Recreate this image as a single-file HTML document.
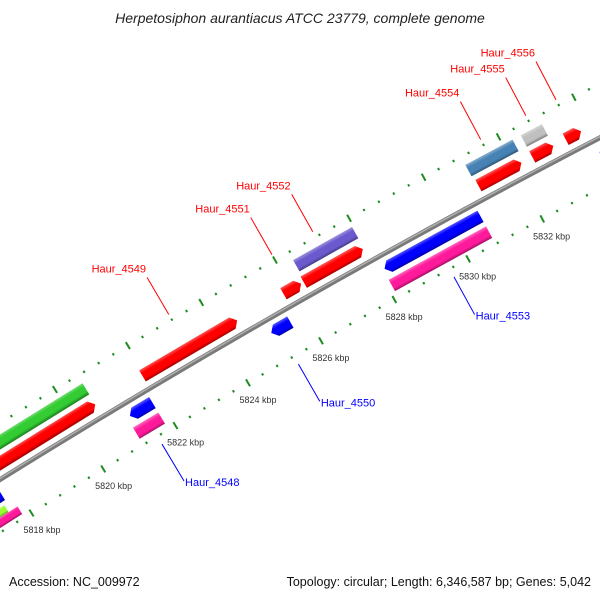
<!DOCTYPE html>
<html><head><meta charset="utf-8"><style>
html,body{margin:0;padding:0;background:#fff;width:600px;height:600px;overflow:hidden;}
svg{display:block;font-family:"Liberation Sans",sans-serif;overflow:hidden;}
</style></head><body>
<svg id="map" width="600" height="600" viewBox="0 0 600 600" xmlns="http://www.w3.org/2000/svg">
<rect width="600" height="600" fill="#fff"/>
<defs id="defs"></defs>
<g id="ticks"></g>
<g id="backbone"></g>
<g id="features"></g>
<g id="labels"></g>
<text x="300" y="23" text-anchor="middle" font-size="14" font-style="italic" fill="#222">Herpetosiphon aurantiacus ATCC 23779, complete genome</text>
<text x="9" y="586" font-size="12.5" fill="#111">Accession: NC_009972</text>
<text x="591" y="586" text-anchor="end" font-size="12.5" fill="#111">Topology: circular; Length: 6,346,587 bp; Genes: 5,042</text>
</svg>
<script>
// feature data (kbp)
var featStart = [5816.0, 5816.0, 5821.93, 5821.19, 5821.11, 5814.0, 5814.0, 5814.0, 5825.78, 5826.33, 5826.37, 5825.07, 5828.15, 5828.11, 5831.04, 5831.0, 5832.48, 5832.48, 5833.37, 5833.93];
var featEnd   = [5820.63, 5820.63, 5824.52, 5821.81, 5821.81, 5817.63, 5817.55, 5817.8, 5826.26, 5827.93, 5827.96, 5825.59, 5830.74, 5830.74, 5832.19, 5832.26, 5833.04, 5833.04, 5833.78, 5836.0];
var featRing  = ["F2","F1","F1","R1","R2","R1","R2a","R2b","F1","F1","F2","R1","R1","R2","F1","F2","F1","F2","F1","R1"];
var featColor = ["#33cc33","#ff0000","#ff0000","#0000ff","#ff1a9c","#0000ff","#99ff33","#ff1a9c","#ff0000","#ff0000","#6a5acd","#0000ff","#0000ff","#ff1a9c","#ff0000","#4682b4","#ff0000","#c0c0c0","#ff0000","#0000ff"];
// labels
var labelText = ["Haur_4548","Haur_4549","Haur_4550","Haur_4551","Haur_4552","Haur_4553","Haur_4554","Haur_4555","Haur_4556"];
var labelKb   = [5821.5, 5823.2, 5825.26, 5826.0, 5827.1, 5829.5, 5831.6, 5832.8, 5833.6];
var labelStrand = [-1, 1, -1, 1, 1, -1, 1, 1, 1];
// ticks
var tickStart = 5810, tickEnd = 5840, tickStep = 0.4, majorStep = 2;
var tickLabelKb = [5818, 5820, 5822, 5824, 5826, 5828, 5830, 5832];

var NS = "http://www.w3.org/2000/svg";
var CX = 4743, CY = 8106, R = 8981;
var TH0 = -121.28 * Math.PI / 180, K = 0.004712;
function P(kb, r) { var t = TH0 + (kb - 5820) * K; return [CX + r * Math.cos(t), CY + r * Math.sin(t)]; }
function mk(tag, attrs, parent) { var e = document.createElementNS(NS, tag); for (var a in attrs) e.setAttribute(a, attrs[a]); parent.appendChild(e); return e; }
function pts(arr) { return arr.map(function (p) { return p[0].toFixed(2) + "," + p[1].toFixed(2); }).join(" "); }
function shade(hex, f) {
  var n = parseInt(hex.slice(1), 16), r = n >> 16, g = (n >> 8) & 255, b = n & 255;
  function c(v) { return Math.max(0, Math.min(255, Math.round(f > 0 ? v + (255 - v) * f : v * (1 + f)))); }
  return "rgb(" + c(r) + "," + c(g) + "," + c(b) + ")";
}
var ringR = { F1: [R + 8, R + 21], F2: [R + 26, R + 39], R1: [R - 20, R - 7], R2: [R - 38, R - 25], R2a: [R - 32, R - 24], R2b: [R - 41, R - 32] };
var defs = document.getElementById("defs");
var gT = document.getElementById("ticks"), gB = document.getElementById("backbone"), gF = document.getElementById("features"), gL = document.getElementById("labels");

// tick rings
var n = Math.round((tickEnd - tickStart) / tickStep);
for (var i = 0; i <= n; i++) {
  var kb = tickStart + i * tickStep;
  var major = Math.abs(kb / majorStep - Math.round(kb / majorStep)) < 1e-6;
  var len = major ? 4 : 1.2;
  [R + 48, R - 45].forEach(function (rr, j) {
    var a = P(kb, rr - len), b = P(kb, rr + len);
    var l = mk("line", { x1: a[0], y1: a[1], x2: b[0], y2: b[1], stroke: "#1e8c1e", "stroke-width": 2 }, gT);
    
    
  });
}
tickLabelKb.forEach(function (kb) {
  var p = P(kb, R - 65);
  var t = mk("text", { x: p[0], y: p[1] + 3, "text-anchor": "middle", "font-size": "9", fill: "#333" }, gT);
  t.textContent = kb + " kbp";
  
  
});

// backbone
(function () {
  var arr = [];
  for (var kb = 5813; kb <= 5836; kb += 0.5) arr.push(P(kb, R));
  var d = "M" + arr.map(function (p) { return p[0].toFixed(2) + " " + p[1].toFixed(2); }).join(" L");
  var a = mk("path", { d: d, fill: "none", stroke: "#7a7a7a", "stroke-width": 5 }, gB);
  
  
  var arr2 = [];
  for (var kb2 = 5813; kb2 <= 5836; kb2 += 0.5) arr2.push(P(kb2, R + 1));
  var d2 = "M" + arr2.map(function (p) { return p[0].toFixed(2) + " " + p[1].toFixed(2); }).join(" L");
  var b = mk("path", { d: d2, fill: "none", stroke: "#b0b0b0", "stroke-width": 1.5 }, gB);
  
  
})();

// features
for (var f = 0; f < featStart.length; f++) {
  var s = featStart[f], e = featEnd[f], ring = featRing[f], rr = ringR[ring];
  var rIn = rr[0], rOut = rr[1], rMid = (rIn + rOut) / 2;
  var arrow = (ring === "F1") ? 1 : (ring === "R1" ? -1 : 0);
  var tip = 0.13, poly;
  if (arrow === 1) {
    var se = Math.max(s, e - tip);
    poly = [P(s, rOut), P(se, rOut), P(e, rMid), P(se, rIn), P(s, rIn)];
  } else if (arrow === -1) {
    var ss = Math.min(e, s + tip);
    poly = [P(s, rMid), P(ss, rOut), P(e, rOut), P(e, rIn), P(ss, rIn)];
  } else {
    poly = [P(s, rOut), P(e, rOut), P(e, rIn), P(s, rIn)];
  }
  var mid = (s + e) / 2, g1 = P(mid, rOut), g2 = P(mid, rIn);
  var gid = "g" + f;
  var lg = mk("linearGradient", { id: gid, gradientUnits: "userSpaceOnUse", x1: g1[0], y1: g1[1], x2: g2[0], y2: g2[1] }, defs);
  mk("stop", { offset: "0", "stop-color": shade(featColor[f], 0.35) }, lg);
  mk("stop", { offset: "0.3", "stop-color": featColor[f] }, lg);
  mk("stop", { offset: "0.75", "stop-color": featColor[f] }, lg);
  mk("stop", { offset: "1", "stop-color": shade(featColor[f], -0.35) }, lg);
  var pg = mk("polygon", { points: pts(poly), fill: "url(#" + gid + ")" }, gF);
  
  
}

// labels
for (var l = 0; l < labelText.length; l++) {
  var st = labelStrand[l], kbl = labelKb[l];
  var a = P(kbl, R + st * 54), b = P(kbl, R + st * 97);
  var col = st > 0 ? "#ff0000" : "#0000ff";
  var ln = mk("line", { x1: a[0], y1: a[1], x2: b[0], y2: b[1], stroke: col, "stroke-width": 1 }, gL);
  
  
  var tx = st > 0 ? mk("text", { x: b[0] - 1, y: b[1] - 5, "text-anchor": "end", "font-size": "11", fill: col }, gL)
                  : mk("text", { x: b[0] + 1, y: b[1] + 5, "text-anchor": "start", "font-size": "11", fill: col }, gL);
  tx.textContent = labelText[l];
  
  
}
</script>
</body></html>
